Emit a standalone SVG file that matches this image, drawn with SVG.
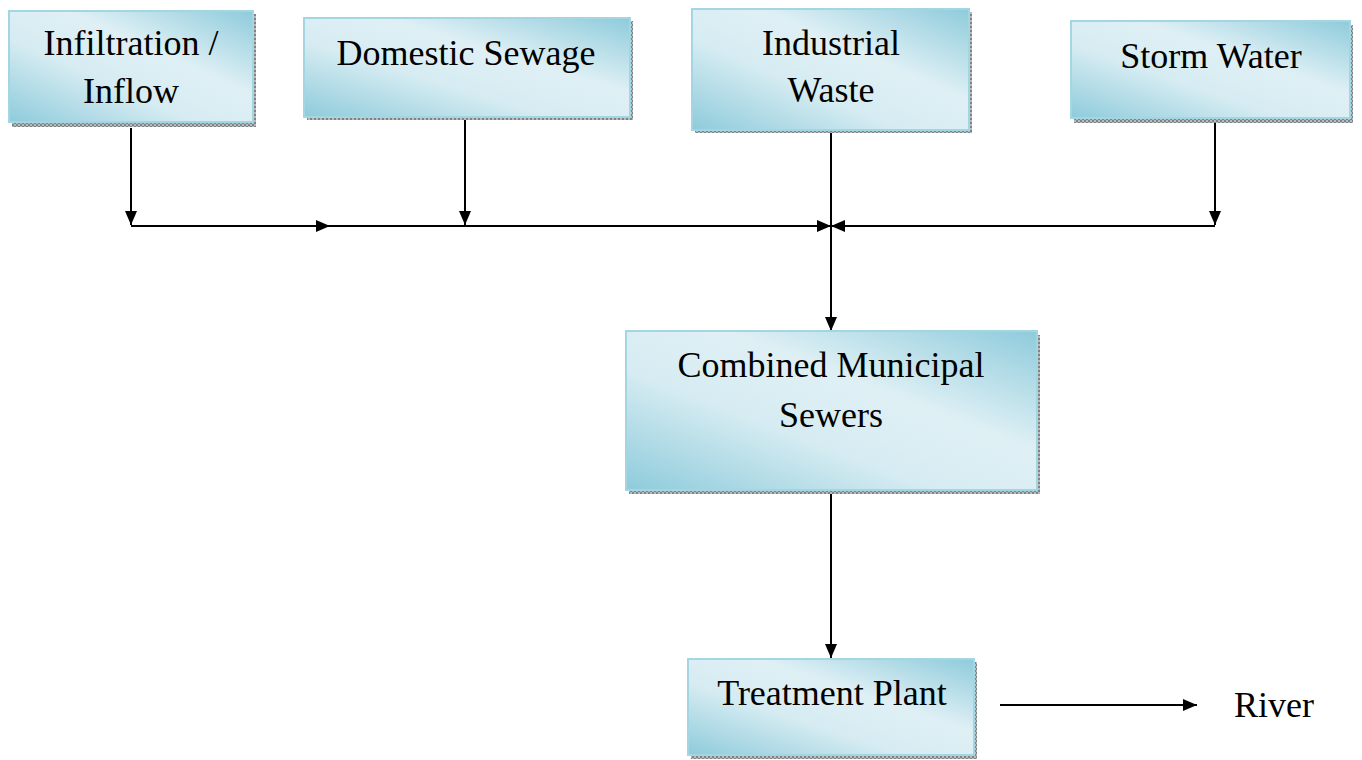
<svg xmlns="http://www.w3.org/2000/svg" width="1362" height="760" viewBox="0 0 1362 760">
<style>
.box{fill:url(#g);stroke:#a3d5e2;stroke-width:2}
.sh{fill:url(#hatch)}
.t{font-family:"Liberation Serif","Times New Roman",serif;font-size:36px;fill:#000;text-anchor:middle}
.c{fill:none;stroke:#000;stroke-width:2}
</style>
<defs>
<linearGradient id="g" x1="0" y1="1" x2="1" y2="0">
<stop offset="0" stop-color="#8ecbdb"/>
<stop offset="0.38" stop-color="#d6ecf2"/>
<stop offset="0.62" stop-color="#dff0f5"/>
<stop offset="1" stop-color="#8ecbdb"/>
</linearGradient>
<pattern id="hatch" width="4" height="4" patternUnits="userSpaceOnUse">
<rect width="4" height="4" fill="#b8bcbd"/>
<rect width="2" height="2" fill="#7d8486"/>
<rect x="2" y="2" width="2" height="2" fill="#7d8486"/>
</pattern>
<marker id="ah" viewBox="0 0 14 12" refX="14" refY="6" markerWidth="14" markerHeight="12" markerUnits="userSpaceOnUse" orient="auto">
<path d="M0,0 L14,6 L0,12 Z" fill="#000"/>
</marker>
</defs>
<g id="connectors">
<path class="c" d="M131,128 V225" marker-end="url(#ah)"/>
<path class="c" d="M465,120 V225" marker-end="url(#ah)"/>
<path class="c" d="M1215,123 V225" marker-end="url(#ah)"/>
<path class="c" d="M131,226 H330" marker-end="url(#ah)"/>
<path class="c" d="M330,226 H831" marker-end="url(#ah)"/>
<path class="c" d="M1215,226 H831" marker-end="url(#ah)"/>
<path class="c" d="M831,133 V331" marker-end="url(#ah)"/>
<path class="c" d="M831,492 V658" marker-end="url(#ah)"/>
<path class="c" d="M1000,705 H1197" marker-end="url(#ah)"/>
</g>
<g id="n-infiltration">
<rect class="sh" x="12" y="14" width="244" height="113"/>
<rect class="box" x="9" y="11" width="244" height="111"/>
<text class="t" x="131" y="55">Infiltration /</text>
<text class="t" x="131" y="103">Inflow</text>
</g>
<g id="n-domestic">
<rect class="sh" x="307" y="21" width="326" height="99"/>
<rect class="box" x="304" y="18" width="326" height="99"/>
<text class="t" x="466" y="65">Domestic Sewage</text>
</g>
<g id="n-industrial">
<rect class="sh" x="695" y="12" width="277" height="121"/>
<rect class="box" x="692" y="9" width="277" height="121"/>
<text class="t" x="831" y="55">Industrial</text>
<text class="t" x="831" y="102">Waste</text>
</g>
<g id="n-storm">
<rect class="sh" x="1074" y="25" width="279" height="98"/>
<rect class="box" x="1071" y="21" width="279" height="97"/>
<text class="t" x="1211" y="68">Storm Water</text>
</g>
<g id="n-combined">
<rect class="sh" x="629" y="335" width="411" height="159"/>
<rect class="box" x="626" y="331" width="411" height="159"/>
<text class="t" x="831" y="377">Combined Municipal</text>
<text class="t" x="831" y="427">Sewers</text>
</g>
<g id="n-treatment">
<rect class="sh" x="691" y="662" width="286" height="97"/>
<rect class="box" x="688" y="659" width="286" height="96"/>
<text class="t" x="832" y="705">Treatment Plant</text>
</g>
<g id="n-river">
<text class="t" x="1274" y="717">River</text>
</g>
</svg>
